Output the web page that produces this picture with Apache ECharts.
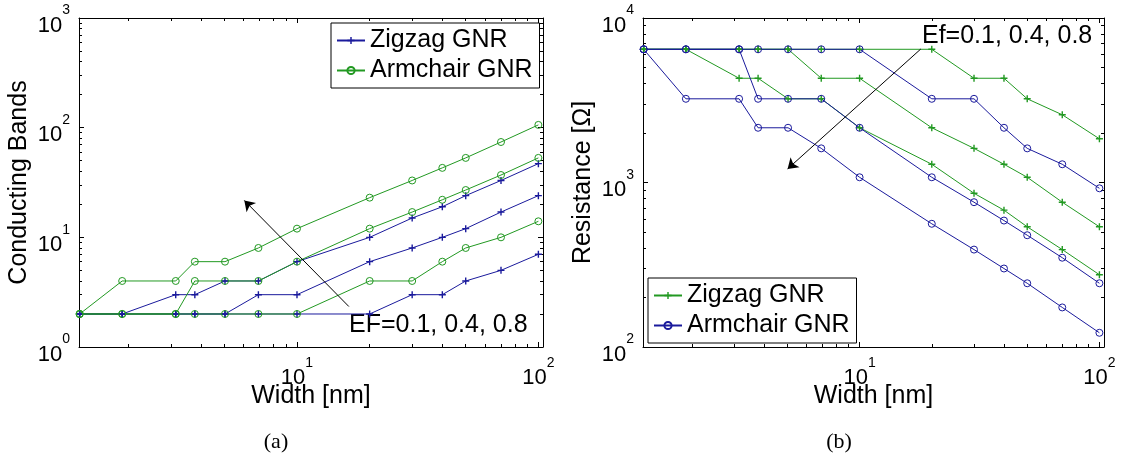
<!DOCTYPE html>
<html>
<head>
<meta charset="utf-8">
<script src="https://cdn.jsdelivr.net/npm/echarts@6/dist/echarts.min.js"></script>
<style>html,body{margin:0;padding:0;background:#fff}#c{width:1127px;height:461px}</style>
</head>
<body>
<div id="c"></div>
<script>
// ---- data ----
const widths = [1.258, 1.887, 3.145, 3.774, 5.032, 6.92, 10, 20, 30, 40, 50, 70, 100];
const xRange = [1.25, 104.5];
const yRangeBands = [1, 1000];
const yRangeRes = [100, 10000];
const efLabels = ['0.1', '0.4', '0.8'];
// panel (a): conducting bands
const bandsZigzagEF01 = [2, 2, 2, 2, 2, 2, 2, 2, 3, 3, 4, 5, 7];
const bandsZigzagEF04 = [2, 2, 2, 2, 2, 3, 3, 6, 8, 10, 12, 17, 24];
const bandsZigzagEF08 = [2, 2, 3, 3, 4, 4, 6, 10, 15, 19, 24, 33, 47];
const bandsArmchairEF01 = [2, 2, 2, 2, 2, 2, 2, 4, 4, 6, 8, 10, 14];
const bandsArmchairEF04 = [2, 2, 2, 4, 4, 4, 6, 12, 17, 22, 27, 37, 53];
const bandsArmchairEF08 = [2, 4, 4, 6, 6, 8, 12, 23, 33, 43, 53, 74, 106];
// panel (b): resistance [Ohm]
const resZigzagEF01 = [6453, 6453, 6453, 6453, 6453, 6453, 6453, 6453, 4302, 4302, 3227, 2581, 1844];
const resZigzagEF04 = [6453, 6453, 6453, 6453, 6453, 4302, 4302, 2151, 1613, 1291, 1076, 759, 538];
const resZigzagEF08 = [6453, 6453, 4302, 4302, 3227, 3227, 2151, 1291, 860, 679, 538, 391, 275];
const resArmchairEF01 = [6453, 6453, 6453, 6453, 6453, 6453, 6453, 3227, 3227, 2151, 1613, 1291, 922];
const resArmchairEF04 = [6453, 6453, 6453, 3227, 3227, 3227, 2151, 1076, 759, 587, 478, 349, 244];
const resArmchairEF08 = [6453, 3227, 3227, 2151, 2151, 1613, 1076, 561, 391, 300, 244, 174, 122];
// arrows (data coordinates: [width, value])
const arrowA = [[16.4, 2.34], [6.05, 21.7]];
const arrowB = [[18.0, 6480], [5.01, 1210]];

// ---- styling ----
const F = "'Liberation Sans', Arial, Helvetica, sans-serif";
const BLUE = '#1a1a9c';
const GREEN = '#229922';
const PLUS = 'path://M4,0H6V4H10V6H6V10H4V6H0V4H4Z';

function powLabel(v) {
  const e = Math.log10(v);
  if (Math.abs(e - Math.round(e)) > 1e-6) return '';
  return '{b|10}{s|' + Math.round(e) + '}';
}
const rich = {
  b: {fontSize: 22, fontFamily: F, color: '#000', lineHeight: 33, verticalAlign: 'bottom'},
  s: {fontSize: 14, fontFamily: F, color: '#000', lineHeight: 2, verticalAlign: 'top'}
};
const tickBase = {
  axisTick: {show: true, inside: true, length: 5, lineStyle: {color: '#000', width: 1}},
  minorTick: {show: true, splitNumber: 9, length: 3, lineStyle: {color: '#000', width: 1}},
  splitLine: {show: false}, minorSplitLine: {show: false},
  axisLine: {show: true, lineStyle: {color: '#000', width: 1}}
};
function labelOpt(margin, padding) {
  return {show: true, formatter: powLabel, rich: rich, margin: margin, padding: padding,
          fontSize: 22, fontFamily: F, color: '#000', showMinLabel: true, showMaxLabel: true};
}
function mkX(grid, pos, main) {
  return Object.assign({
    type: 'log', logBase: 10, gridIndex: grid, position: pos, min: xRange[0], max: xRange[1],
    axisLabel: main ? labelOpt(9, 0) : {show: false},
    name: main ? 'Width [nm]' : '', nameLocation: 'middle', nameGap: 37, nameMoveOverlap: false,
    nameTextStyle: {fontSize: 25, fontFamily: F, color: '#000'}
  }, tickBase);
}
function mkY(grid, pos, main, range, title) {
  return Object.assign({
    type: 'log', logBase: 10, gridIndex: grid, position: pos, min: range[0], max: range[1],
    axisLabel: main ? labelOpt(9, [4, 0, 0, 0]) : {show: false},
    name: main ? title : '', nameLocation: 'middle', nameGap: 47, nameMoveOverlap: false,
    nameTextStyle: {fontSize: 25, fontFamily: F, color: '#000'}
  }, tickBase);
}
function pairs(ys) { return widths.map((w, i) => [w, ys[i]]); }
function mkSeries(name, ys, color, marker, xi, yi) {
  const isPlus = marker === 'plus';
  return {
    type: 'line', name: name, data: pairs(ys), xAxisIndex: xi, yAxisIndex: yi,
    symbol: isPlus ? PLUS : 'circle', symbolSize: 7, showSymbol: true,
    lineStyle: {color: color, width: 1},
    itemStyle: isPlus ? {color: color, borderWidth: 0} : {color: 'rgba(255,255,255,0)', borderColor: color, borderWidth: 1},
    emphasis: {disabled: true}, silent: true, z: 3
  };
}
function arrow(pts) {
  return {
    silent: true, symbol: ['none', 'arrow'], symbolSize: 10, precision: 6,
    itemStyle: {color: '#000'},
    lineStyle: {color: '#000', width: 1, type: 'solid'}, label: {show: false},
    emphasis: {disabled: true},
    data: [[{coord: pts[0]}, {coord: pts[1]}]]
  };
}

const series = [
  mkSeries('a:Zigzag GNR', bandsZigzagEF01, BLUE, 'plus', 0, 0),
  mkSeries('a:Zigzag GNR', bandsZigzagEF04, BLUE, 'plus', 0, 0),
  mkSeries('a:Zigzag GNR', bandsZigzagEF08, BLUE, 'plus', 0, 0),
  mkSeries('a:Armchair GNR', bandsArmchairEF01, GREEN, 'circle', 0, 0),
  mkSeries('a:Armchair GNR', bandsArmchairEF04, GREEN, 'circle', 0, 0),
  mkSeries('a:Armchair GNR', bandsArmchairEF08, GREEN, 'circle', 0, 0),
  mkSeries('b:Zigzag GNR', resZigzagEF01, GREEN, 'plus', 2, 2),
  mkSeries('b:Zigzag GNR', resZigzagEF04, GREEN, 'plus', 2, 2),
  mkSeries('b:Zigzag GNR', resZigzagEF08, GREEN, 'plus', 2, 2),
  mkSeries('b:Armchair GNR', resArmchairEF01, BLUE, 'circle', 2, 2),
  mkSeries('b:Armchair GNR', resArmchairEF04, BLUE, 'circle', 2, 2),
  mkSeries('b:Armchair GNR', resArmchairEF08, BLUE, 'circle', 2, 2)
];
series[0].markLine = arrow(arrowA);
series[6].markLine = arrow(arrowB);

function mkLegend(prefix, left, top) {
  return {
    data: [prefix + 'Zigzag GNR', prefix + 'Armchair GNR'],
    orient: 'vertical', left: left, top: top,
    padding: [5, 7, 5, 5], itemGap: 5, itemWidth: 28, itemHeight: 9,
    borderColor: '#000', borderWidth: 1, backgroundColor: '#fff',
    formatter: n => n.slice(2), selectedMode: false,
    textStyle: {fontSize: 25, fontFamily: F, color: '#000', lineHeight: 25}
  };
}

const option = {
  animation: false,
  backgroundColor: '#fff',
  grid: [
    {left: 79, top: 18, width: 464, height: 329},
    {left: 643, top: 18, width: 461, height: 329}
  ],
  xAxis: [mkX(0, 'bottom', true), mkX(0, 'top', false), mkX(1, 'bottom', true), mkX(1, 'top', false)],
  yAxis: [mkY(0, 'left', true, yRangeBands, 'Conducting Bands'), mkY(0, 'right', false, yRangeBands, ''),
          mkY(1, 'left', true, yRangeRes, 'Resistance [Ω]'), mkY(1, 'right', false, yRangeRes, '')],
  legend: [mkLegend('a:', 331, 23), mkLegend('b:', 648, 278)],
  series: series,
  graphic: [
    {type: 'text', x: 349, y: 325, silent: true, style: {text: 'EF=' + efLabels.join(', '), font: '25px ' + F, fill: '#000', align: 'left', verticalAlign: 'middle'}},
    {type: 'text', x: 922, y: 36, silent: true, style: {text: 'Ef=' + efLabels.join(', '), font: '25px ' + F, fill: '#000', align: 'left', verticalAlign: 'middle'}},
    {type: 'text', x: 276, y: 442, silent: true, style: {text: '(a)', font: "22px 'Liberation Serif', 'Times New Roman', serif", fill: '#000', align: 'center', verticalAlign: 'middle'}},
    {type: 'text', x: 839, y: 442, silent: true, style: {text: '(b)', font: "22px 'Liberation Serif', 'Times New Roman', serif", fill: '#000', align: 'center', verticalAlign: 'middle'}}
  ]
};
const chart = echarts.init(document.getElementById('c'), null, {renderer: 'canvas'});
chart.setOption(option);
</script>
</body>
</html>
